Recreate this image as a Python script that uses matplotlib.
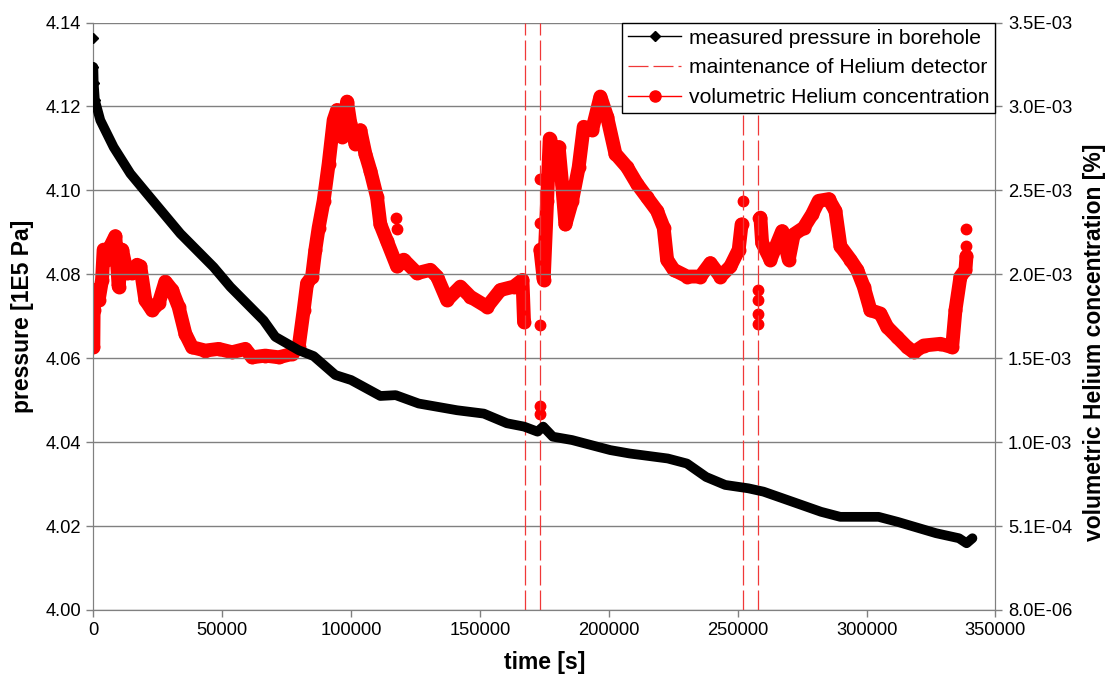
import numpy as np
import matplotlib
matplotlib.use("Agg")
import matplotlib.pyplot as plt
from matplotlib.lines import Line2D

plt.rcParams['font.family'] = ['Liberation Sans', 'DejaVu Sans']

# pressure in borehole [1E5 Pa]
p_time = [0, 150, 600, 2716, 7880, 14360, 20840, 33760, 46680, 53160, 66080,
          70600, 79700, 85480, 93900, 100000, 111360, 117300, 126230, 141100,
          151500, 160430, 167130, 172330, 174540, 178260, 185720, 200580,
          208000, 222890, 230300, 237750, 245150, 254080, 260020, 267470,
          282330, 289780, 304640, 312060, 326950, 335840, 338800, 341070]
p_value = [4.1294, 4.1255, 4.1215, 4.1167, 4.1103, 4.1040, 4.0992, 4.0897,
           4.0817, 4.0770, 4.0690, 4.0651, 4.0619, 4.0605, 4.0560, 4.0548,
           4.0510, 4.0512, 4.0492, 4.0476, 4.0468, 4.0445, 4.0437, 4.0425,
           4.0437, 4.0413, 4.0405, 4.0381, 4.0373, 4.0361, 4.0349, 4.0317,
           4.0298, 4.0290, 4.0282, 4.0266, 4.0234, 4.0222, 4.0222, 4.0210,
           4.0183, 4.0171, 4.0159, 4.0171]
p_out_time = [0]
p_out_value = [4.1364]

# helium concentration [%], three runs between detector maintenance
he_time_1 = [0, 120, 780, 2060, 3380, 4000, 5320, 6600, 8540, 9820, 11140,
             13080, 15020, 16960, 18240, 20180, 22780, 25340, 27940, 30540,
             33100, 35700, 38300, 43460, 48620, 53820, 58980, 61580, 66740,
             71900, 77100, 79660, 81600, 82920, 84860, 86140, 87420, 89360,
             91300, 93240, 94560, 96500, 98440, 99720, 101660, 103600, 105540,
             107480, 110080, 111360, 113960, 117840, 120400, 125600, 130760,
             133360, 137250, 142410, 146290, 152760, 157930, 163100, 166500,
             167100]
he_value_1 = [1.57e-3, 1.79e-3, 1.91e-3, 1.85e-3, 1.97e-3, 2.15e-3, 2.09e-3,
              2.17e-3, 2.23e-3, 1.93e-3, 2.15e-3, 2.01e-3, 2.01e-3, 2.06e-3,
              2.05e-3, 1.85e-3, 1.79e-3, 1.83e-3, 1.96e-3, 1.91e-3, 1.81e-3,
              1.65e-3, 1.57e-3, 1.55e-3, 1.56e-3, 1.54e-3, 1.56e-3, 1.51e-3,
              1.52e-3, 1.51e-3, 1.53e-3, 1.57e-3, 1.79e-3, 1.95e-3, 1.99e-3,
              2.15e-3, 2.28e-3, 2.44e-3, 2.66e-3, 2.92e-3, 2.98e-3, 2.82e-3,
              3.03e-3, 2.90e-3, 2.78e-3, 2.86e-3, 2.72e-3, 2.62e-3, 2.46e-3,
              2.30e-3, 2.20e-3, 2.05e-3, 2.09e-3, 2.01e-3, 2.03e-3, 1.99e-3,
              1.85e-3, 1.93e-3, 1.87e-3, 1.81e-3, 1.91e-3, 1.93e-3, 1.97e-3,
              1.72e-3]
he_time_2 = [173450, 174730, 176050, 177060, 178610, 180550, 181870, 183150,
             185750, 188310, 190250, 193510, 196730, 199330, 202550, 207090,
             210970, 214850, 218730, 221290, 222610, 225170, 230370, 235530,
             239410, 243290, 247170, 250390, 251500]
he_value_2 = [2.15e-3, 1.97e-3, 2.44e-3, 2.81e-3, 2.72e-3, 2.76e-3, 2.54e-3,
              2.30e-3, 2.44e-3, 2.64e-3, 2.88e-3, 2.86e-3, 3.06e-3, 2.94e-3,
              2.72e-3, 2.64e-3, 2.54e-3, 2.46e-3, 2.38e-3, 2.28e-3, 2.09e-3,
              2.03e-3, 1.99e-3, 1.99e-3, 2.07e-3, 1.99e-3, 2.05e-3, 2.15e-3,
              2.30e-3]
he_time_3 = [258810, 259470, 262690, 267230, 269790, 271730, 275610, 278870,
             281430, 285320, 287920, 289860, 293740, 296340, 298900, 301500,
             305380, 307980, 311860, 315740, 318300, 322180, 328660, 333200,
             334480, 336420, 338360, 338750]
he_value_3 = [2.34e-3, 2.19e-3, 2.09e-3, 2.26e-3, 2.09e-3, 2.24e-3, 2.28e-3,
              2.36e-3, 2.44e-3, 2.45e-3, 2.38e-3, 2.17e-3, 2.09e-3, 2.03e-3,
              1.93e-3, 1.79e-3, 1.77e-3, 1.69e-3, 1.63e-3, 1.57e-3, 1.54e-3,
              1.58e-3, 1.59e-3, 1.57e-3, 1.79e-3, 1.99e-3, 2.03e-3, 2.11e-3]
# single readings sticking out of the band
he_out_time = [117570, 118000, 173200, 173200, 173200, 173300, 173300,
               251900, 257760, 257760, 257760, 257760, 257760, 338750, 338750]
he_out_value = [2.34e-3, 2.27e-3, 1.70e-3, 1.22e-3, 1.17e-3, 2.57e-3, 2.31e-3,
                2.44e-3, 2.34e-3, 1.91e-3, 1.85e-3, 1.77e-3, 1.71e-3,
                2.17e-3, 2.27e-3]

maintenance = [167400, 173200, 252000, 257800]

p_ticks = [4.00, 4.02, 4.04, 4.06, 4.08, 4.10, 4.12, 4.14]
x_ticks = [0, 50000, 100000, 150000, 200000, 250000, 300000, 350000]
he_lim = (8.0e-6, 3.5e-3)

fig = plt.figure(figsize=(11.11, 6.84), dpi=100)
ax = fig.add_axes([0.0840, 0.1082, 0.8120, 0.8589])
ax2 = ax.twinx()

grid_c = '#808080'
for sp in ax.spines.values():
    sp.set_color(grid_c)
for sp in ax2.spines.values():
    sp.set_color(grid_c)
ax.spines['top'].set_visible(False)
ax2.spines['top'].set_visible(False)

ax.set_xlim(0, 350000)
ax.set_ylim(4.00, 4.14)
ax.set_yticks(p_ticks)
ax.set_yticklabels([f"{v:.2f}" for v in p_ticks])
ax.set_xticks(x_ticks)
ax.set_xticklabels([str(v) for v in x_ticks])
ax.yaxis.grid(True, color=grid_c, lw=1)
ax.set_axisbelow(True)

ax2.set_ylim(*he_lim)
he_ticks = np.linspace(he_lim[0], he_lim[1], 8)
ax2.set_yticks(he_ticks)
ax2.set_yticklabels([f"{v:.1E}" for v in he_ticks])

for a in (ax, ax2):
    a.tick_params(direction='out', length=5, width=1, color=grid_c,
                  labelsize=13.2, labelcolor='black', pad=4)

# maintenance of the detector
for t in maintenance:
    ax.axvline(t, color='#f03838', lw=0.9, dashes=(16, 4), zorder=2)

# helium on the right axis
for tt, vv in ((he_time_1, he_value_1), (he_time_2, he_value_2),
               (he_time_3, he_value_3)):
    ax2.plot(tt, vv, color='red', lw=10, solid_joinstyle='round',
             solid_capstyle='round', marker='o', ms=9, zorder=3)
ax2.plot(he_out_time, he_out_value, ls='none', marker='o', ms=7.5,
         color='red', zorder=3)

# pressure drawn on top
ax.set_zorder(ax2.get_zorder() + 1)
ax.patch.set_visible(False)
ax.plot(p_time, p_value, color='black', lw=7, solid_joinstyle='round',
        solid_capstyle='round', zorder=4)
ax.plot(p_time[:3] + p_out_time, p_value[:3] + p_out_value, ls='none',
        marker='D', ms=5.5, color='black', zorder=4)

ax.set_xlabel("time [s]", fontsize=16.5, fontweight='bold', labelpad=8)
ax.set_ylabel("pressure [1E5 Pa]", fontsize=16.5, fontweight='bold',
              labelpad=8)
ax2.set_ylabel("volumetric Helium concentration [%]", fontsize=16.5,
               fontweight='bold', labelpad=8)
ax2.yaxis.set_label_coords(1.097, 0.455)

handles = [
    Line2D([], [], color='black', lw=1, marker='D', ms=5),
    Line2D([], [], color='#f03838', lw=0.9, dashes=(16, 4)),
    Line2D([], [], color='red', lw=1, marker='o', ms=8),
]
labels = ["measured pressure in borehole", "maintenance of Helium detector",
          "volumetric Helium concentration"]
leg = ax.legend(handles, labels, loc='upper right', fontsize=15.2,
                frameon=True, fancybox=False, framealpha=1,
                edgecolor='black', borderaxespad=0, handlelength=2.5,
                handletextpad=0.35, labelspacing=0.5, borderpad=0.3)
leg.get_frame().set_linewidth(1)
leg.set_zorder(10)

fig.savefig("out.png", dpi=100)
